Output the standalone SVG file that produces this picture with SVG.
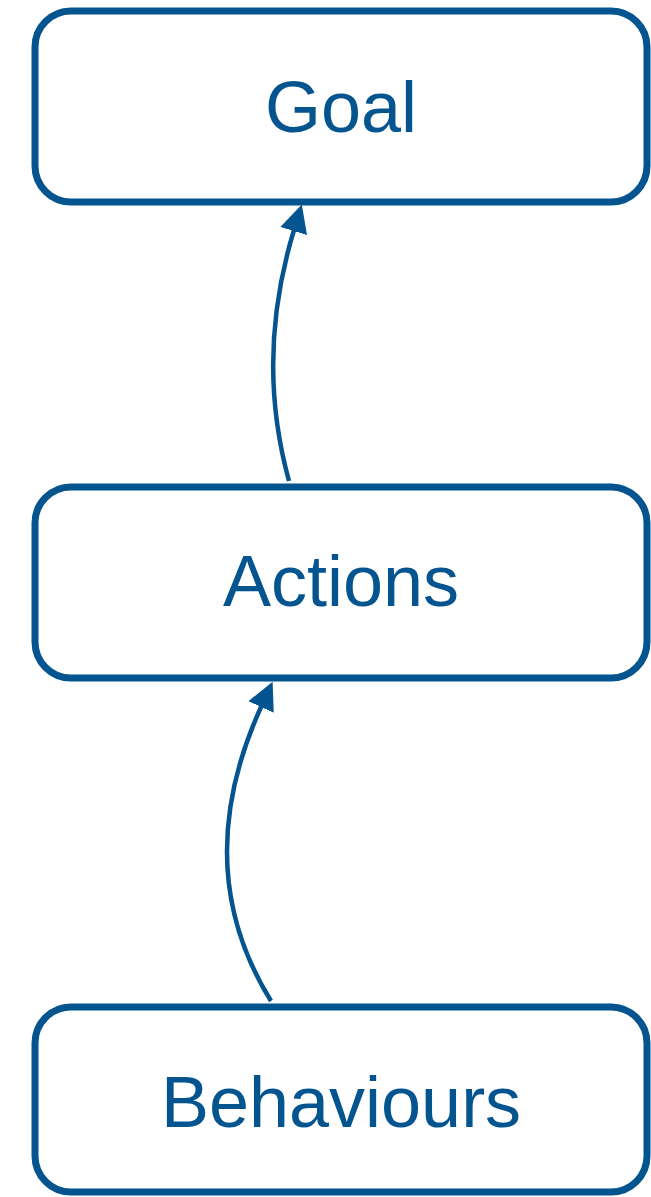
<svg xmlns="http://www.w3.org/2000/svg" width="651" height="1197" viewBox="0 0 651 1197">
<style>
.box{fill:#ffffff;stroke:#03548f;stroke-width:7}
.lbl{font-family:"Liberation Sans",Arial,sans-serif;font-size:72px;fill:#03548f;text-anchor:middle}
.edge{fill:none;stroke:#03548f;stroke-width:4.5}
</style>
<defs>
<marker id="ah" markerUnits="userSpaceOnUse" markerWidth="30" markerHeight="30" viewBox="0 -14 28 28" refX="1" refY="0" orient="auto">
<path d="M0,-13 L26,0 L0,13 Z" fill="#03548f"/>
</marker>
</defs>
<rect width="651" height="1197" fill="#ffffff"/>
<g id="connectors">
<path class="edge" d="M289,481 Q255,358 294,230" marker-end="url(#ah)"/>
<path class="edge" d="M271,1001 Q188,867 261.5,706" marker-end="url(#ah)"/>
</g>
<g id="goal">
<rect class="box" x="35" y="11" width="612" height="191" rx="36"/>
<text class="lbl" x="341" y="132">Goal</text>
</g>
<g id="actions">
<rect class="box" x="35" y="487" width="612" height="191" rx="36"/>
<text class="lbl" x="341" y="606">Actions</text>
</g>
<g id="behaviours">
<rect class="box" x="35" y="1007" width="612" height="185" rx="36"/>
<text class="lbl" x="341" y="1127">Behaviours</text>
</g>
</svg>
